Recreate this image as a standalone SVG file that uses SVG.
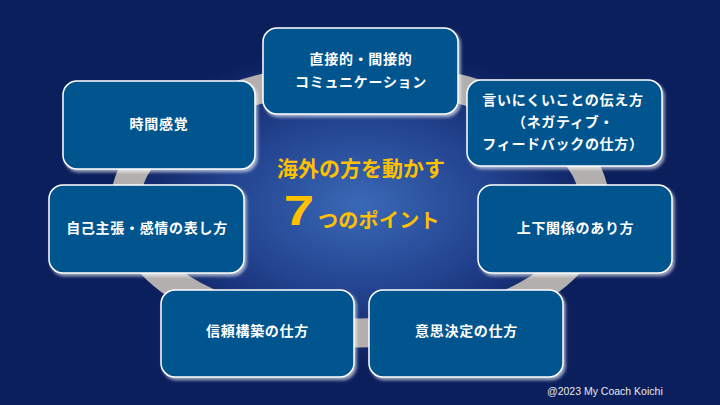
<svg xmlns="http://www.w3.org/2000/svg" width="720" height="405" viewBox="0 0 720 405">
<defs>
<radialGradient id="bg" gradientUnits="userSpaceOnUse" cx="0" cy="0" r="1" gradientTransform="translate(360 205) scale(245 160)">
<stop offset="0" stop-color="#3a69b6"/>
<stop offset="0.55" stop-color="#22428e"/>
<stop offset="1" stop-color="#0c1f5d"/>
</radialGradient>
<filter id="sh" x="-10%" y="-10%" width="125%" height="130%">
<feDropShadow dx="2" dy="2.5" stdDeviation="1.5" flood-color="#ffffff" flood-opacity="0.6"/>
</filter>
<style>
.box{fill:#02548f;stroke:#ffffff;stroke-width:1.5;filter:url(#sh)}
.t{fill:#ffffff;font-family:"Noto Sans CJK JP","Noto Sans",sans-serif;font-weight:bold;font-size:14px;letter-spacing:0.7px;text-anchor:middle}
.y{fill:#ffc000;font-family:"Noto Sans CJK JP","Noto Sans",sans-serif;font-weight:bold}
</style>
</defs>
<rect width="720" height="405" fill="#0c1f5d"/>
<rect width="720" height="405" fill="url(#bg)"/>
<g id="connectors">
<ellipse cx="360" cy="205" rx="235" ry="128" fill="none" stroke="#b3afaf" stroke-width="29"/>
</g>
<g id="n1"><rect class="box" x="263" y="28" width="195" height="86" rx="14"/>
<text class="t" x="361" y="63.5">直接的・間接的</text>
<text class="t" x="361" y="86.5">コミュニケーション</text></g>
<g id="n2"><rect class="box" x="467" y="80" width="195" height="86" rx="14"/>
<text class="t" x="563" y="105">言いにくいことの伝え方</text>
<text class="t" x="563" y="127">（ネガティブ・</text>
<text class="t" x="563" y="148.5">フィードバックの仕方）</text></g>
<g id="n3"><rect class="box" x="63" y="81" width="192" height="88" rx="14"/>
<text class="t" x="159" y="128.5">時間感覚</text></g>
<g id="n4"><rect class="box" x="49" y="185" width="195" height="88" rx="14"/>
<text class="t" x="147" y="233">自己主張・感情の表し方</text></g>
<g id="n5"><rect class="box" x="478" y="185" width="194" height="88" rx="14"/>
<text class="t" x="575.5" y="233">上下関係のあり方</text></g>
<g id="n6"><rect class="box" x="161" y="290" width="193" height="87" rx="14"/>
<text class="t" x="257.5" y="336">信頼構築の仕方</text></g>
<g id="n7"><rect class="box" x="369" y="290" width="194" height="87" rx="14"/>
<text class="t" x="466.5" y="336">意思決定の仕方</text></g>
<g id="title">
<text class="y" x="361" y="176" font-size="21" text-anchor="middle">海外の方を動かす</text>
<text class="y" font-family="Liberation Sans, Arial, sans-serif" font-size="42" transform="translate(299 225) scale(1.3 1)" text-anchor="middle" style="font-family:'Liberation Sans',Arial,sans-serif">7</text>
<text class="y" x="318" y="227.5" font-size="20" letter-spacing="0.3">つのポイント</text>
</g>
<text x="547" y="395" fill="#e8e8e8" font-family="Liberation Sans, Arial, sans-serif" font-size="10.5">@2023 My Coach Koichi</text>
</svg>
